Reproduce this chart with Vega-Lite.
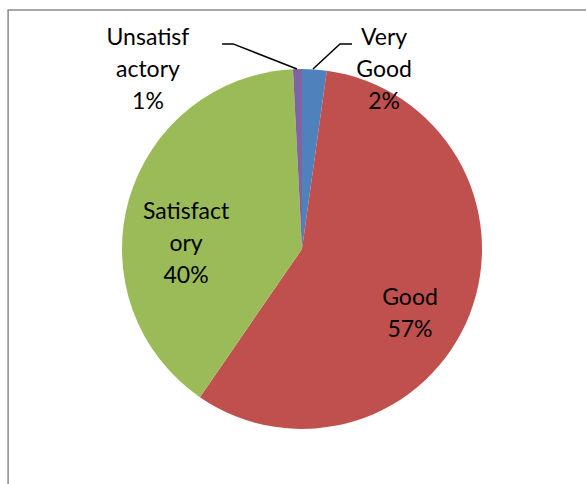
{
  "$schema": "https://vega.github.io/schema/vega-lite/v6.json",
  "width": 586,
  "height": 484,
  "padding": 0,
  "autosize": {"type": "fit", "contains": "padding"},
  "background": "white",
  "config": {"view": {"stroke": null}},
  "datasets": {
    "slices": [
      {"rating": "Very Good", "share": 2.2, "idx": 1},
      {"rating": "Good", "share": 57.4, "idx": 2},
      {"rating": "Satisfactory", "share": 39.6, "idx": 3},
      {"rating": "Unsatisfactory", "share": 0.8, "idx": 4}
    ],
    "labels": [
      {"label": "Unsatisf\nactory\n1%", "lx": -0.856, "ly": 1.172},
      {"label": "Very\nGood\n2%", "lx": 0.456, "ly": 1.172},
      {"label": "Satisfact\nory\n40%", "lx": -0.644, "ly": 0.206},
      {"label": "Good\n57%", "lx": 0.6, "ly": -0.272}
    ],
    "leaders": [
      {"rating": "Unsatisfactory", "step": 1, "px": -0.444, "py": 1.139},
      {"rating": "Unsatisfactory", "step": 2, "px": -0.383, "py": 1.139},
      {"rating": "Unsatisfactory", "step": 3, "px": -0.028, "py": 1.0},
      {"rating": "Very Good", "step": 1, "px": 0.061, "py": 1.0},
      {"rating": "Very Good", "step": 2, "px": 0.211, "py": 1.139},
      {"rating": "Very Good", "step": 3, "px": 0.278, "py": 1.139}
    ],
    "frame": [
      {"x0": -1.633, "x1": 2.5, "y0": 1.328, "y1": -2.5}
    ]
  },
  "layer": [
    {
      "data": {"name": "frame"},
      "mark": {"type": "rect", "fill": null, "stroke": "#8a8a8a", "strokeWidth": 1.5, "clip": true},
      "encoding": {
        "x": {"field": "x0", "type": "quantitative", "axis": null, "scale": {"domain": [-1.678, 1.578], "nice": false, "zero": false}},
        "x2": {"field": "x1"},
        "y": {"field": "y0", "type": "quantitative", "axis": null, "scale": {"domain": [-1.306, 1.383], "nice": false, "zero": false}},
        "y2": {"field": "y1"}
      }
    },
    {
      "data": {"name": "slices"},
      "mark": {"type": "arc", "outerRadius": 180},
      "encoding": {
        "x": {"datum": 0, "type": "quantitative"},
        "y": {"datum": 0, "type": "quantitative"},
        "theta": {"field": "share", "type": "quantitative", "stack": true},
        "order": {"field": "idx", "type": "quantitative"},
        "color": {
          "field": "rating", "type": "nominal", "legend": null,
          "scale": {
            "domain": ["Very Good", "Good", "Satisfactory", "Unsatisfactory"],
            "range": ["#4F81BD", "#C0504D", "#9BBB59", "#8064A2"]
          }
        }
      }
    },
    {
      "data": {"name": "leaders"},
      "mark": {"type": "line", "color": "black", "strokeWidth": 1.5},
      "encoding": {
        "x": {"field": "px", "type": "quantitative"},
        "y": {"field": "py", "type": "quantitative"},
        "detail": {"field": "rating"},
        "order": {"field": "step", "type": "quantitative"}
      }
    },
    {
      "data": {"name": "labels"},
      "mark": {"type": "text", "font": "Lato", "fontSize": 23, "lineBreak": "\n", "lineHeight": 32, "align": "center", "baseline": "middle", "color": "black"},
      "encoding": {
        "x": {"field": "lx", "type": "quantitative"},
        "y": {"field": "ly", "type": "quantitative"},
        "text": {"field": "label"}
      }
    }
  ]
}
